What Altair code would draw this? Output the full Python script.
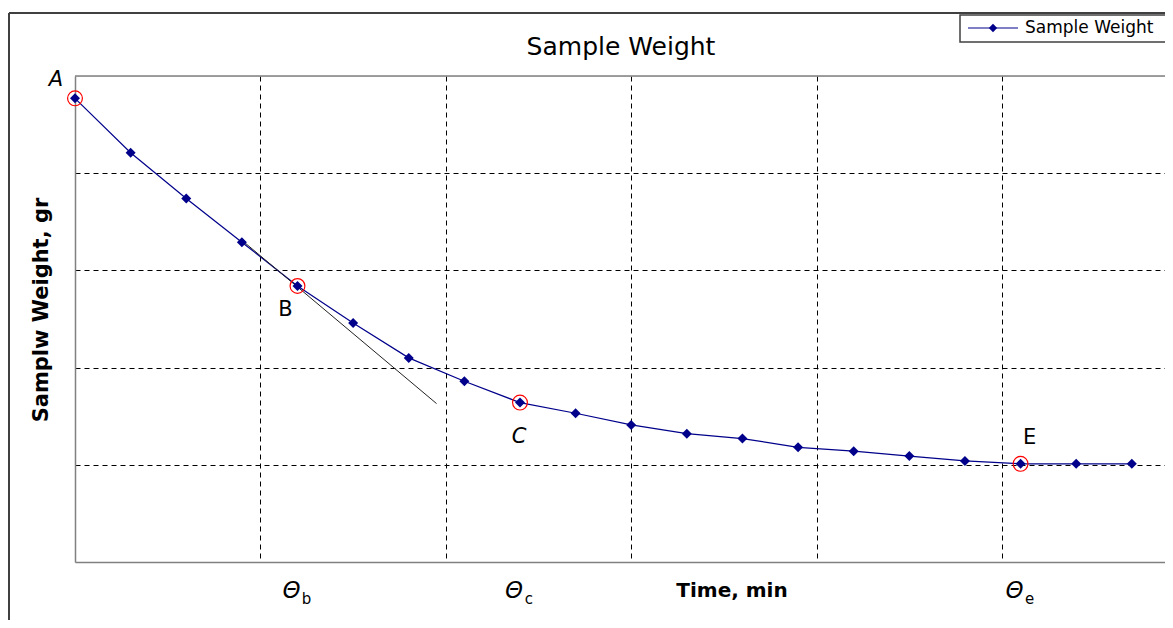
import altair as alt
import pandas as pd

# ---- data ----
time_min = [0, 3, 6, 9, 12, 15, 18, 21, 24, 27, 30, 33, 36, 39, 42, 45, 48, 51, 54, 57]
weight = [4.77, 4.21, 3.74, 3.29, 2.84, 2.46, 2.10, 1.86, 1.64, 1.53, 1.41, 1.32,
          1.27, 1.18, 1.14, 1.09, 1.04, 1.01, 1.01, 1.01]

tangent_t = [9.0, 19.5]
tangent_w = [3.31, 1.63]

mark_t = [0, 12, 24, 51]
mark_w = [4.77, 2.84, 1.64, 1.01]
mark_label = ["A", "B", "C", "E"]

theta_t = [12, 24, 51]
theta_sub = ["b", "c", "e"]

grid_x = [10, 20, 30, 40, 50]
grid_y = [1, 2, 3, 4]

series_name = "Sample Weight"
title_text = "Sample Weight"
x_title = "Time,  min"
y_title = "Samplw Weight,  gr"

FONT = "DejaVu Sans"
NAVY = "#00008B"
W, H = 1090, 486

df = pd.DataFrame({"t": time_min, "w": weight})
tan_df = pd.DataFrame({"t": tangent_t, "w": tangent_w})
mk_df = pd.DataFrame({"t": mark_t, "w": mark_w, "label": mark_label})
th_df = pd.DataFrame({"t": theta_t, "sub": theta_sub})
one = pd.DataFrame({"k": [0]})

x_enc = alt.X(
    "t:Q",
    scale=alt.Scale(domain=[0, 58.79], nice=False, zero=False),
    axis=alt.Axis(values=grid_x, grid=True, gridDash=[5, 4], gridColor="black",
                  gridWidth=1, gridOpacity=1, labels=False, ticks=False,
                  domainColor="#808080", domainWidth=1.5, title=None),
)
y_enc = alt.Y(
    "w:Q",
    scale=alt.Scale(domain=[0, 5], nice=False, zero=False),
    axis=alt.Axis(values=grid_y, grid=True, gridDash=[5, 4], gridColor="black",
                  gridWidth=1, gridOpacity=1, labels=False, ticks=False,
                  domainColor="#808080", domainWidth=1.5, title=None),
)

line = alt.Chart(df).mark_line(color=NAVY, strokeWidth=1.2).encode(x=x_enc, y=y_enc)
tangent = alt.Chart(tan_df).mark_line(color="#222222", strokeWidth=1).encode(x="t:Q", y="w:Q")
pts = alt.Chart(df).mark_point(shape="diamond", filled=True, color=NAVY, size=100,
                               opacity=1).encode(x="t:Q", y="w:Q")
circ = alt.Chart(mk_df).mark_point(shape="circle", filled=False, color="red", size=220,
                                   strokeWidth=1.2, opacity=1).encode(x="t:Q", y="w:Q")

lab_style = {
    "A": dict(dx=-19, dy=-18, fontStyle="italic"),
    "B": dict(dx=-12, dy=24, fontStyle="normal"),
    "C": dict(dx=-1, dy=34, fontStyle="italic"),
    "E": dict(dx=9, dy=-26, fontStyle="normal"),
}
labels = [
    alt.Chart(mk_df).transform_filter(alt.datum.label == k).mark_text(
        font=FONT, fontSize=21, color="black", baseline="middle", align="center", **v
    ).encode(x="t:Q", y="w:Q", text="label:N")
    for k, v in lab_style.items()
]

theta = alt.Chart(th_df).mark_text(
    text="Θ", font=FONT, fontSize=23, fontStyle="italic", color="black",
    baseline="middle", align="center", dx=-6
).encode(x="t:Q", y=alt.value(515))
theta_s = alt.Chart(th_df).mark_text(
    font=FONT, fontSize=15, color="black", baseline="middle", align="center", dx=9
).encode(x="t:Q", y=alt.value(523), text="sub:N")

top_border = alt.Chart(one).mark_rule(color="#808080", strokeWidth=1.5).encode(
    x=alt.value(0), x2=alt.value(W), y=alt.value(0))

# outer figure frame
frame_left = alt.Chart(one).mark_rule(color="#404040", strokeWidth=2).encode(
    x=alt.value(-66), y=alt.value(-63), y2=alt.value(H + 60))
frame_top = alt.Chart(one).mark_rule(color="#404040", strokeWidth=2).encode(
    x=alt.value(-66), x2=alt.value(W), y=alt.value(-63))

title = alt.Chart(one).mark_text(
    text=title_text, font=FONT, fontSize=25, color="black", align="center",
    baseline="alphabetic").encode(x=alt.value(546), y=alt.value(-21))
xt = alt.Chart(one).mark_text(
    text=x_title, font=FONT, fontSize=20, fontWeight="bold", color="black",
    align="center", baseline="middle").encode(x=alt.value(657), y=alt.value(515))
yt = alt.Chart(one).mark_text(
    text=y_title, font=FONT, fontSize=21, fontWeight="bold", color="black",
    align="center", baseline="middle", angle=270).encode(x=alt.value(-33), y=alt.value(234))

# legend box
leg_box = alt.Chart(one).mark_rect(fill="white", stroke="#404040", strokeWidth=1.5).encode(
    x=alt.value(885), x2=alt.value(W + 10), y=alt.value(-61), y2=alt.value(-34))
leg_line = alt.Chart(one).mark_rule(color=NAVY, strokeWidth=1.2).encode(
    x=alt.value(893), x2=alt.value(943), y=alt.value(-48))
leg_pt = alt.Chart(one).mark_point(shape="diamond", filled=True, color=NAVY, size=70,
                                   opacity=1).encode(x=alt.value(918), y=alt.value(-48))
leg_txt = alt.Chart(one).mark_text(
    text=series_name, font=FONT, fontSize=17, color="black", align="left",
    baseline="middle").encode(x=alt.value(950), y=alt.value(-48))

chart = alt.layer(
    line, tangent, pts, circ, *labels, theta, theta_s, top_border,
    frame_left, frame_top, title, xt, yt, leg_box, leg_line, leg_pt, leg_txt
).properties(
    width=W, height=H,
    padding={"left": 67, "top": 68, "right": 0, "bottom": 58},
    autosize=alt.AutoSizeParams(type="none"),
).configure_view(stroke=None).configure(background="white")

chart.save("out.html", embed_options={"renderer": "svg", "actions": False})
